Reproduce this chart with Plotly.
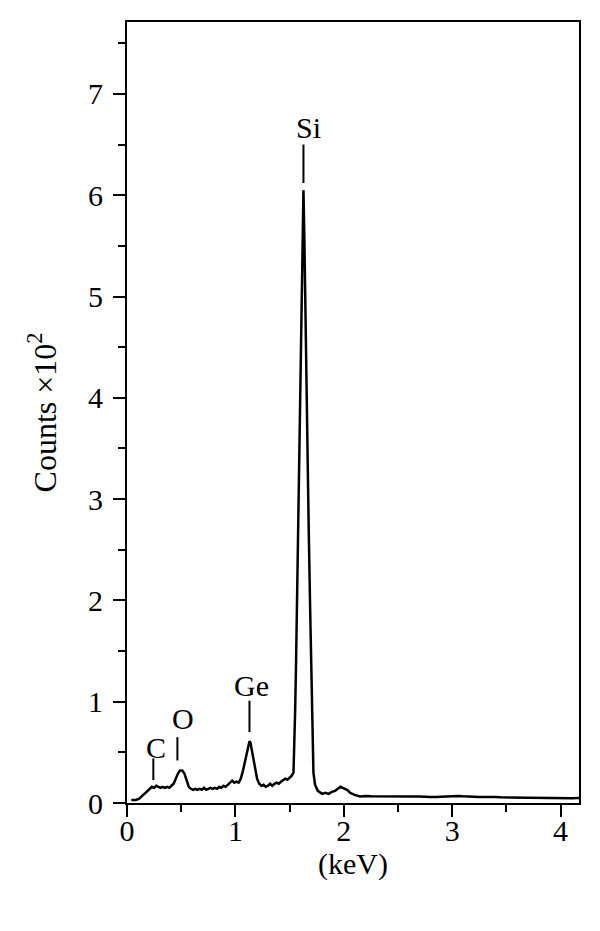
import plotly.graph_objects as go

# EDS spectrum (energy in keV, counts x10^2)
energy = [
    0.04, 0.08, 0.11, 0.14, 0.17, 0.20, 0.23, 0.25, 0.27, 0.29, 0.31, 0.33, 0.35, 0.37, 0.39,
    0.41, 0.43, 0.45, 0.47, 0.49, 0.51, 0.53, 0.55, 0.57, 0.59, 0.61, 0.63, 0.65, 0.67, 0.69,
    0.71, 0.73, 0.75, 0.77, 0.79, 0.81, 0.83, 0.85, 0.87, 0.89, 0.91, 0.93, 0.95, 0.97, 0.99,
    1.01, 1.03, 1.05, 1.07, 1.09, 1.11, 1.13, 1.14, 1.16, 1.18, 1.20, 1.22, 1.24, 1.26, 1.28,
    1.30, 1.32, 1.34, 1.36, 1.38, 1.40, 1.42, 1.44, 1.46, 1.48, 1.50, 1.52, 1.536, 1.545, 1.551,
    1.560, 1.567, 1.580, 1.597, 1.610, 1.620, 1.628, 1.636, 1.646, 1.659, 1.675, 1.690, 1.698,
    1.705, 1.712, 1.720, 1.735, 1.76, 1.80, 1.83, 1.86, 1.89, 1.92, 1.95, 1.97, 1.99, 2.01,
    2.03, 2.06, 2.10, 2.15, 2.20, 2.25, 2.30, 2.35, 2.40, 2.45, 2.50, 2.55, 2.60, 2.65, 2.70,
    2.75, 2.80, 2.85, 2.90, 2.95, 3.00, 3.05, 3.10, 3.15, 3.20, 3.25, 3.30, 3.35, 3.40, 3.45,
    3.50, 3.55, 3.60, 3.65, 3.70, 3.75, 3.80, 3.85, 3.90, 3.95, 4.00, 4.05, 4.10, 4.17,
]
counts = [
    0.03, 0.03, 0.04, 0.07, 0.10, 0.13, 0.16, 0.15, 0.17, 0.16, 0.15, 0.16, 0.15, 0.16, 0.15,
    0.17, 0.19, 0.24, 0.29, 0.32, 0.32, 0.29, 0.22, 0.16, 0.14, 0.13, 0.14, 0.13, 0.14, 0.13,
    0.15, 0.13, 0.14, 0.15, 0.14, 0.15, 0.14, 0.16, 0.15, 0.17, 0.16, 0.18, 0.19, 0.22, 0.20,
    0.21, 0.20, 0.24, 0.32, 0.42, 0.53, 0.61, 0.59, 0.48, 0.34, 0.24, 0.19, 0.17, 0.18, 0.16,
    0.17, 0.19, 0.17, 0.19, 0.20, 0.19, 0.21, 0.23, 0.24, 0.23, 0.25, 0.27, 0.30, 0.55, 0.90,
    1.40, 1.90, 2.80, 3.80, 4.80, 5.60, 6.05, 5.60, 4.80, 3.80, 2.80, 1.90, 1.40,
    0.90, 0.55, 0.30, 0.18, 0.12, 0.09, 0.10, 0.09, 0.11, 0.12, 0.14, 0.16, 0.15, 0.14,
    0.13, 0.10, 0.08, 0.065, 0.07, 0.066, 0.065, 0.068, 0.07, 0.064, 0.065, 0.062, 0.06, 0.063, 0.065,
    0.06, 0.06, 0.058, 0.062, 0.06, 0.065, 0.07, 0.066, 0.062, 0.06, 0.058, 0.058, 0.06, 0.06, 0.056,
    0.055, 0.057, 0.057, 0.054, 0.053, 0.055, 0.055, 0.052, 0.05, 0.051, 0.052, 0.049, 0.048, 0.05,
]

# Peak labels: name, energy of marker line, line bottom, line top, label x, label y
peak_names = ["C", "O", "Ge", "Si"]
peak_line_x = [0.243, 0.465, 1.13, 1.628]
peak_line_y0 = [0.226, 0.42, 0.70, 6.12]
peak_line_y1 = [0.44, 0.65, 1.01, 6.50]
peak_label_x = [0.27, 0.52, 1.145, 1.67]
peak_label_y = [0.55, 0.83, 1.16, 6.67]

x_ticks = [0, 1, 2, 3, 4]
y_ticks = [0, 1, 2, 3, 4, 5, 6, 7]

FONT = "Liberation Serif"

fig = go.Figure()
fig.add_trace(go.Scatter(x=energy, y=counts, mode="lines",
                         line=dict(color="black", width=2.5), showlegend=False,
                         hoverinfo="skip"))

for nm, lx, y0, y1, tx, ty in zip(peak_names, peak_line_x, peak_line_y0, peak_line_y1,
                                  peak_label_x, peak_label_y):
    fig.add_trace(go.Scatter(x=[lx, lx], y=[y0, y1], mode="lines",
                             line=dict(color="black", width=2), showlegend=False,
                             hoverinfo="skip"))
    fig.add_annotation(x=tx, y=ty, text=nm, showarrow=False,
                       font=dict(family=FONT, size=30, color="black"))

# the page body adds an 8px offset, so the figure is sized 8px smaller
fig.update_layout(
    width=592, height=923,
    margin=dict(l=119, r=21, t=12, b=128),
    paper_bgcolor="white", plot_bgcolor="white",
    font=dict(family=FONT, size=30, color="black"),
    showlegend=False,
)
fig.update_xaxes(
    range=[0, 4.17], tickvals=x_ticks, ticktext=[str(v) for v in x_ticks],
    showgrid=False, zeroline=False, showline=True, linecolor="black", linewidth=2,
    mirror=True, ticks="outside", ticklen=12, tickwidth=2, tickcolor="black",
    minor=dict(dtick=0.5, tick0=0, ticks="outside", ticklen=7, tickwidth=2, tickcolor="black"),
    title=dict(text="(keV)", font=dict(family=FONT, size=30), standoff=0),
    tickfont=dict(family=FONT, size=30), ticklabelstandoff=-12,
)
fig.update_yaxes(
    range=[0, 7.71], tickvals=y_ticks, ticktext=[str(v) for v in y_ticks],
    showgrid=False, zeroline=False, showline=True, linecolor="black", linewidth=2,
    mirror=True, ticks="outside", ticklen=12, tickwidth=2, tickcolor="black",
    minor=dict(dtick=0.5, tick0=0, ticks="outside", ticklen=7, tickwidth=2, tickcolor="black"),
    title=dict(text="Counts ×10<sup>2</sup>", font=dict(family=FONT, size=32), standoff=22),
    tickfont=dict(family=FONT, size=30), ticklabelstandoff=4,
)

fig.write_html("out.html")
